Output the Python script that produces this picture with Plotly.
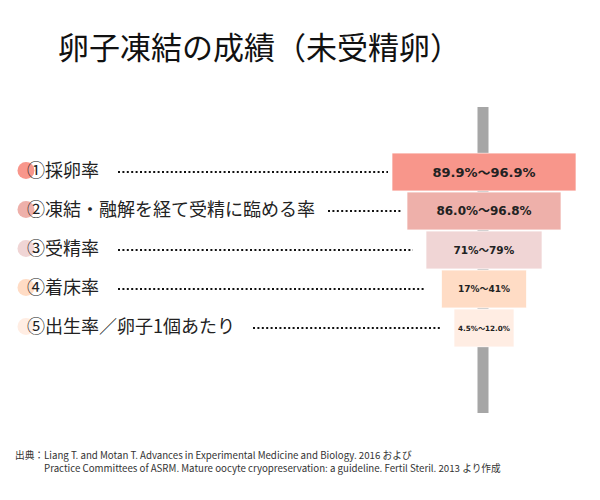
import plotly.graph_objects as go

# ---- data ----
steps = ["①採卵率", "②凍結・融解を経て受精に臨める率", "③受精率", "④着床率", "⑤出生率／卵子1個あたり"]
funnel_size = [184, 154, 116, 85, 60]
ranges = ["89.9%〜96.9%", "86.0%〜96.8%", "71%〜79%", "17%〜41%", "4.5%〜12.0%"]
colors = ["#F8968B", "#EEB0AA", "#F0D5D5", "#FFDCC5", "#FFEDE3"]
text_sizes = [13, 12, 10.5, 9, 7.2]
title = "卵子凍結の成績（未受精卵）"
source_label = "出典："
source_lines = [
    "Liang T. and Motan T. Advances in Experimental Medicine and Biology. 2016 および",
    "Practice Committees of ASRM. Mature oocyte cryopreservation: a guideline. Fertil Steril. 2013 より作成",
]

FONT = "Noto Sans CJK JP"
W, H = 600, 500
CX = 484  # pixel center of funnel

fig = go.Figure()
fig.add_trace(go.Funnel(
    y=steps,
    x=funnel_size,
    text=ranges,
    textinfo="text",
    textposition="inside",
    insidetextanchor="middle",
    textfont=dict(family="DejaVu Sans, " + FONT, size=text_sizes, color="#222222", weight="bold"),
    marker=dict(color=colors, line=dict(color="rgba(255,255,255,0.7)", width=1)),
    connector=dict(visible=False),
    hoverinfo="skip",
    constraintext="none",
))

shapes = []
# grey pole behind the funnel
shapes.append(dict(type="rect", xref="x", yref="paper", x0=-6.5, x1=4.5,
                   y0=1 - 413 / H, y1=1 - 107 / H, fillcolor="#A6A6A6",
                   line=dict(width=0), layer="below"))

dot_start = [118, 328, 118, 118, 253]
dot_end = [388, 402, 413, 425, 441]
annotations = []
for i, s in enumerate(steps):
    # coloured blob behind the circled number
    shapes.append(dict(type="circle", xref="x", yref="y",
                       x0=17.5 - CX, x1=34.5 - CX,
                       y0=i - 0.04 - 0.218, y1=i - 0.04 + 0.218,
                       fillcolor=colors[i], line=dict(width=0), layer="below"))
    # dotted leader
    shapes.append(dict(type="line", xref="x", yref="y",
                       x0=dot_start[i] - CX, x1=dot_end[i] - CX, y0=i, y1=i,
                       line=dict(color="#111111", width=2, dash="2px,2.4px")))
    annotations.append(dict(text=s, xref="x", yref="y", x=25 - CX, y=i,
                            xanchor="left", yanchor="middle", yshift=3,
                            showarrow=False,
                            font=dict(family=FONT, size=18, color="#222222")))

annotations.append(dict(text=title, xref="paper", yref="paper", x=259 / W, y=1 - 45.5 / H,
                        xanchor="center", yanchor="middle", showarrow=False,
                        font=dict(family=FONT, size=31, color="#111111")))
annotations.append(dict(text=source_label, xref="paper", yref="paper", x=13 / W, y=1 - 455 / H,
                        xanchor="left", yanchor="middle", showarrow=False,
                        font=dict(family=FONT, size=9.7, color="#333333")))
for k, line in enumerate(source_lines):
    annotations.append(dict(text=line, xref="paper", yref="paper",
                            x=42 / W, y=1 - (455 + 13.4 * k) / H, xanchor="left", yanchor="middle",
                            align="left", showarrow=False,
                            font=dict(family=FONT, size=9.7, color="#333333")))

fig.update_layout(
    width=W, height=H,
    margin=dict(l=0, r=0, t=0, b=0),
    paper_bgcolor="white", plot_bgcolor="white",
    showlegend=False,
    funnelgap=0.03,
    xaxis=dict(domain=[0, 1], range=[-CX, W - CX], visible=False, fixedrange=True),
    yaxis=dict(domain=[1 - 347.5 / H, 1 - 152.5 / H], range=[4.5, -0.5],
               categoryorder="array", categoryarray=steps,
               visible=False, fixedrange=True),
    shapes=shapes,
    annotations=annotations,
)

fig.write_html("out.html", post_script="document.body.style.margin='0';",
               config={"displayModeBar": False})
